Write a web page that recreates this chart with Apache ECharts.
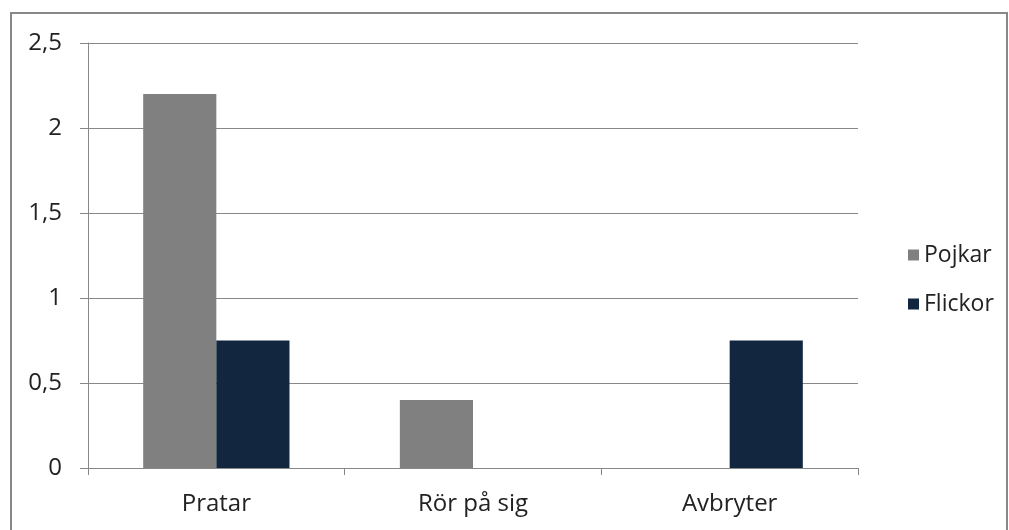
<!DOCTYPE html>
<html>
<head>
<meta charset="utf-8">
<script src="https://cdn.jsdelivr.net/npm/echarts@6/dist/echarts.min.js"></script>
<style>html,body{margin:0;padding:0;background:#fff;}#c{width:1009px;height:530px;}</style>
</head>
<body>
<div id="c"></div>
<script>
var categories = ['Pratar', 'Rör på sig', 'Avbryter'];
var pojkar = [2.2, 0.4, 0];
var flickor = [0.75, 0, 0.75];
var seriesNames = ['Pojkar', 'Flickor'];

var chart = echarts.init(document.getElementById('c'));
var font = 'Open Sans, Noto Sans, sans-serif';
chart.setOption({
  animation: false,
  backgroundColor: '#fff',
  graphic: [{
    type: 'rect', shape: {x: 11, y: 13, width: 996, height: 540},
    style: {fill: 'none', stroke: '#888', lineWidth: 2}, silent: true
  }],
  grid: {left: 88, right: 151, top: 43, bottom: 62},
  legend: {
    orient: 'vertical', left: 903, top: 238,
    itemWidth: 11, itemHeight: 11, itemGap: 25, itemTextGap: 7,
    icon: 'rect',
    textStyle: {fontSize: 23, color: '#222', fontFamily: font, lineHeight: 24},
    data: seriesNames
  },
  xAxis: {
    type: 'category', data: categories,
    axisLine: {lineStyle: {color: '#888', width: 1}},
    axisTick: {show: true, length: 7, lineStyle: {color: '#888'}},
    axisLabel: {fontSize: 24, color: '#222', fontFamily: font, margin: 23, lineHeight: 26}
  },
  yAxis: {
    type: 'value', min: 0, max: 2.5, interval: 0.5,
    axisLine: {show: true, lineStyle: {color: '#888', width: 1}},
    axisTick: {show: true, length: 8, lineStyle: {color: '#888'}},
    splitLine: {lineStyle: {color: '#888', width: 1}},
    axisLabel: {fontSize: 24, color: '#222', fontFamily: font, margin: 26,
      formatter: function (v) { return String(v).replace('.', ','); }}
  },
  series: [
    {name: seriesNames[0], type: 'bar', data: pojkar, barGap: '0%', barCategoryGap: '43%',
      itemStyle: {color: '#808080'}},
    {name: seriesNames[1], type: 'bar', data: flickor, barGap: '0%', barCategoryGap: '43%',
      itemStyle: {color: '#12263f'}}
  ]
});
</script>
</body>
</html>
